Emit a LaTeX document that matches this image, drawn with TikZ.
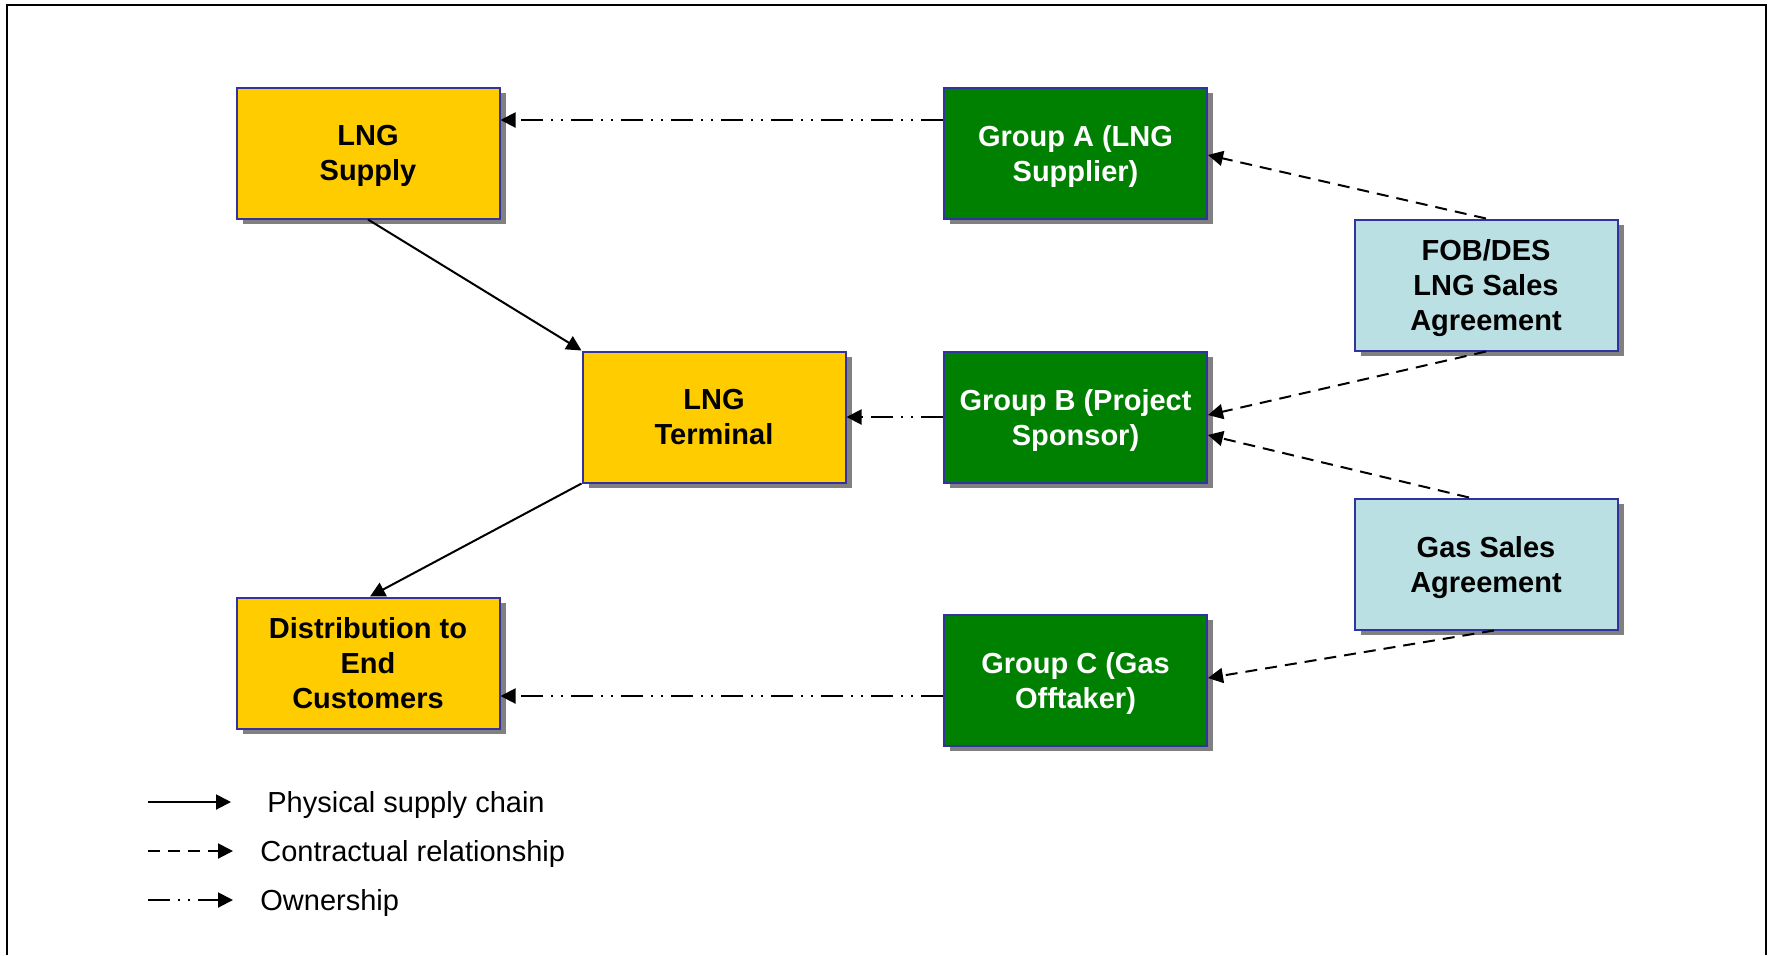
\documentclass[tikz,border=0pt]{standalone}
\usepackage{fontspec}
\setmainfont{Liberation Sans}
\usetikzlibrary{arrows.meta,shadows,calc}

\definecolor{boxyellow}{RGB}{255,204,0}
\definecolor{boxgreen}{RGB}{0,128,0}
\definecolor{boxblue}{RGB}{187,224,228}
\definecolor{edgeblue}{RGB}{51,51,160}
\definecolor{shadowgray}{RGB}{128,128,128}

\tikzset{
  box/.style={rectangle, draw=edgeblue, line width=1pt,
    minimum width=131.5pt, minimum height=65.5pt, inner sep=0pt,
    align=center, text depth=0pt, font=\fontsize{14.5}{17.5}\selectfont\bfseries,
    drop shadow={shadow xshift=3pt, shadow yshift=-2.7pt, fill=shadowgray, opacity=1}},
  yelbox/.style={box, fill=boxyellow, text=black},
  grnbox/.style={box, fill=boxgreen, text=white},
  blubox/.style={box, fill=boxblue, text=black},
  tip/.style={-{Triangle[length=7.5pt,width=7.5pt]}},
  phys/.style={tip, line width=1pt},
  contract/.style={tip, line width=1pt, dash pattern=on 6pt off 4pt},
  own/.style={tip, line width=1pt,
    dash pattern=on 11pt off 4pt on 1pt off 4pt on 1pt off 4pt},
  legendtext/.style={anchor=west, inner sep=0pt, text depth=0pt,
    font=\fontsize{14.5}{17.5}\selectfont}
}

\begin{document}
\begin{tikzpicture}[x=0.5pt, y=-0.5pt]
  \useasboundingbox (0,0) rectangle (1772,955);
  % outer frame, open at the bottom
  \draw[line width=0.85pt, black] (7,955) -- (7,5) -- (1766,5) -- (1766,955);

  % boxes
  \node[yelbox] (sup)  at (368,153)  {LNG\\Supply};
  \node[yelbox] (term) at (714,417)  {LNG\\Terminal};
  \node[yelbox] (dist) at (368,663)  {Distribution to\\End\\Customers};
  \node[grnbox] (ga)   at (1075.5,153) {Group A (LNG\\Supplier)};
  \node[grnbox] (gb)   at (1075.5,417) {Group B (Project\\Sponsor)};
  \node[grnbox] (gc)   at (1075.5,680) {Group C (Gas\\Offtaker)};
  \node[blubox] (fob)  at (1486,285) {FOB/DES\\LNG Sales\\Agreement};
  \node[blubox] (gsa)  at (1486,564) {Gas Sales\\Agreement};

  % ownership
  \coordinate (oa) at ([yshift=16.5pt]ga.west);
  \draw[own] (oa) -- (sup.east |- oa);
  \draw[own] (gb.west) -- (term.east);
  \coordinate (oc) at ([yshift=-8pt]gc.west);
  \draw[own] (oc) -- (dist.east |- oc);

  % physical supply chain
  \draw[phys] (sup.south) -- (term.north west);
  \draw[phys] (term.south west) -- ([xshift=1pt]dist.north);

  % contractual relationships
  \draw[contract] (fob.north) -- ([yshift=-1pt]ga.east);
  \draw[contract] (fob.south) -- ([yshift=1pt]gb.east);
  \draw[contract] ([xshift=-8.5pt]gsa.north) -- ([yshift=-9pt]gb.east);
  \draw[contract] ([xshift=4pt]gsa.south) -- ([yshift=1pt]gc.east);

  % legend
  \coordinate (la1) at (148,802);  \coordinate (lb1) at (231,802);
  \coordinate (la2) at (148,851);  \coordinate (lb2) at (233,851);
  \coordinate (la3) at (148,900);  \coordinate (lb3) at (233,900);
  \draw[phys] (la1) -- (lb1);
  \draw[contract] (la2) -- (lb2);
  \draw[own] (la3) -- (lb3);
  \node[legendtext] (t1) at (267,802) {Physical supply chain};
  \node[legendtext] (t2) at (260,851) {Contractual relationship};
  \node[legendtext] (t3) at (260,900) {Ownership};
\end{tikzpicture}
\end{document}
